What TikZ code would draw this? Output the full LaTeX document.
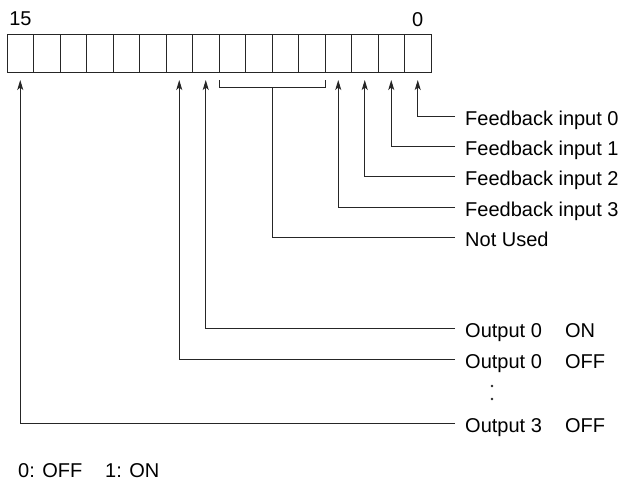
\documentclass[tikz,border=0pt]{standalone}
\usepackage{fontspec}
\setmainfont{Liberation Sans}
\usetikzlibrary{arrows.meta,calc}
\begin{document}
\begin{tikzpicture}[x=1pt,y=-1pt,
  cell/.style={draw=black!85, line width=0.9pt, minimum width=26.5pt, minimum height=38pt, inner sep=0pt, outer sep=0pt},
  lbl/.style={anchor=west, inner xsep=10pt, inner ysep=0pt, text height=18.5pt, text depth=0pt, font=\fontsize{20}{22}\selectfont},
  conn/.style={draw=black!85, line width=0.9pt},
  arr/.style={conn, -{Stealth[length=10pt,width=6pt,inset=2.5pt]}, shorten >=8pt},
  txt/.style={font=\fontsize{20}{22}\selectfont, inner sep=0pt}
]
\useasboundingbox (0,0) rectangle (630,485);
\foreach \b in {0,...,15} \node[cell] (c\b) at ({7+26.5*(15-\b)+13.25},53) {};
\node[txt] (n15) at (20.5,19) {15};
\node[txt] (n0) at (417.75,19.5) {0};

\node[lbl] (f0) at (455,116) {Feedback input 0};
\node[lbl] (f1) at (455,146) {Feedback input 1};
\node[lbl] (f2) at (455,176.5) {Feedback input 2};
\node[lbl] (f3) at (455,207) {Feedback input 3};
\node[lbl] (nu) at (455,237) {Not Used};
\node[lbl] (o0on) at (455,328) {\makebox[100pt][l]{Output 0}ON};
\node[lbl] (o0off) at (455,359) {\makebox[100pt][l]{Output 0}OFF};
\node[lbl] (o3off) at (455,423) {\makebox[100pt][l]{Output 3}OFF};
\node[txt, anchor=west] (legend) at (18,471) {\makebox[87pt][l]{0: OFF}1: ON};

\fill[black!85] (492,386) circle (1.3pt);
\fill[black!85] (492,399) circle (1.3pt);

\draw[arr] (f0.west) -| (c0.south);
\draw[arr] (f1.west) -| (c1.south);
\draw[arr] (f2.west) -| (c2.south);
\draw[arr] (f3.west) -| (c3.south);
\draw[arr] (o0on.west) -| (c8.south);
\draw[arr] (o0off.west) -| (c9.south);
\draw[arr] (o3off.west) -| (c15.south);

\coordinate (bm) at ($(c7.south west)!0.5!(c4.south east)$);
\draw[conn] ([yshift=-8pt]c7.south west) -- ([yshift=-15pt]c7.south west) -- ([yshift=-15pt]c4.south east) -- ([yshift=-8pt]c4.south east);
\draw[conn] (nu.west) -| ([yshift=-15pt]bm);
\end{tikzpicture}
\end{document}
